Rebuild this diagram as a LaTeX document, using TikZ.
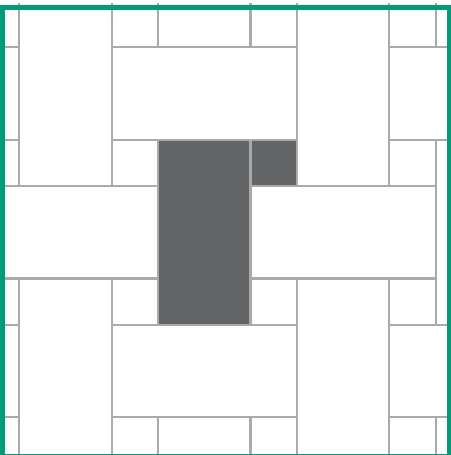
\documentclass[tikz,border=0pt]{standalone}
\usepackage{tikz}
\usetikzlibrary{calc}
\definecolor{FrameGreen}{HTML}{009B77}
\definecolor{JointGrey}{HTML}{A9AAAC}
\definecolor{SlabDark}{HTML}{636466}
\tikzset{
  % Plain paving slab
  slab/.style={
    draw=JointGrey, fill=white, line width=0.42mm
  },
  % Highlighted slab
  darkslab/.style={
    draw=JointGrey, fill=SlabDark, line width=0.42mm
  },
  % Outer frame
  frame/.style={
    draw=FrameGreen, line width=1mm
  }
}
\begin{document}
\begin{tikzpicture}[x=0.2mm, y=-0.2mm]
  \useasboundingbox (0,0) rectangle (451,455);
  \begin{scope}
    \clip (0,3.5) rectangle (451,455);
    \begin{scope}[shift={(19,47)}, x=9.26mm, y=-9.26mm]
      % repeating pattern: lattice steps (6,0) and (3,3)
      \foreach \i in {-3,...,2}{
        \foreach \j in {-1,...,3}{
          \draw[slab] ({6*\i+3*\j},{3*\j-1}) rectangle ++(2,4);
          \draw[slab] ({6*\i+3*\j+2},{3*\j}) rectangle ++(4,2);
          \draw[slab] ({6*\i+3*\j+2},{3*\j-1}) rectangle ++(1,1);
          \draw[slab] ({6*\i+3*\j+5},{3*\j-1}) rectangle ++(1,1);
        }
      }
      % highlighted pieces
      \draw[darkslab] (3,2) rectangle ++(2,4);
      \draw[darkslab] (5,2) rectangle ++(1,1);
    \end{scope}
  \end{scope}
  \clip (0,0) rectangle (451,455);
  \draw[frame] (2.5,7.5) rectangle (449.5,456);
\end{tikzpicture}
\end{document}
